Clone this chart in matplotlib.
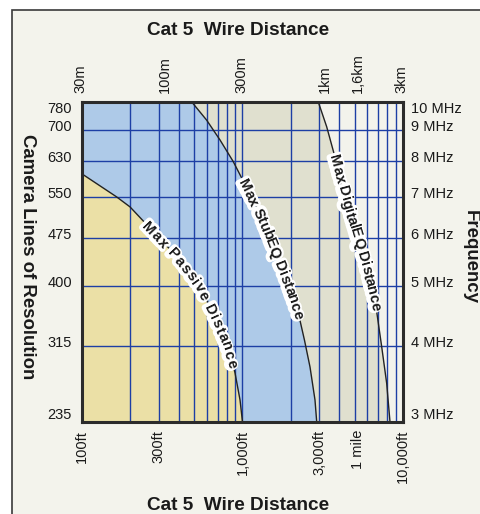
import numpy as np
import matplotlib
matplotlib.use('Agg')
import matplotlib.pyplot as plt
from matplotlib import patches, patheffects, font_manager
from matplotlib.ticker import NullLocator
from matplotlib.transforms import ScaledTranslation, blended_transform_factory
from matplotlib.font_manager import FontProperties

# ---------------- data ----------------
distance_ticks_ft = [100, 300, 1000, 3000, 5280, 10000]
distance_tick_labels = ['100ft', '300ft', '1,000ft', '3,000ft', '1 mile', '10,000ft']
metric_ticks_ft = [98.4, 328, 984, 3281, 5249, 9843]
metric_tick_labels = ['30m', '100m', '300m', '1km', '1,6km', '3km']
freq_ticks_mhz = [3, 4, 5, 6, 7, 8, 9, 10]
freq_tick_labels = ['3 MHz', '4 MHz', '5 MHz', '6 MHz', '7 MHz', '8 MHz', '9 MHz', '10 MHz']
lines_tick_labels = ['235', '315', '400', '475', '550', '630', '700', '780']
grid_ft = [200, 300, 400, 500, 600, 700, 800, 900, 1000,
           2000, 3000, 4000, 5000, 6000, 7000, 8000, 9000]
grid_mhz = [4, 5, 6, 7, 8, 9]

passive_ft = [100, 164, 199, 408, 544, 658, 797, 898, 965, 1000]
passive_mhz = [7.63, 7.00, 6.74, 5.52, 4.99, 4.52, 4.03, 3.61, 3.26, 3.0]
stubeq_ft = [483, 598, 724, 876, 1029, 1285, 1556, 1885, 2227, 2434, 2634, 2829, 2900]
stubeq_mhz = [10.0, 9.34, 8.67, 7.99, 7.36, 6.58, 5.80, 5.12, 4.52, 4.08, 3.69, 3.26, 3.0]
digitaleq_ft = [2967, 3346, 3863, 4460, 5146, 5939, 6692, 7368, 7913, 8299]
digitaleq_mhz = [10.0, 9.11, 7.94, 6.92, 6.10, 5.38, 4.75, 3.98, 3.47, 3.0]

curve_labels = ['Max Passive Distance', 'Max StubEQ Distance', 'Max DigitalEQ Distance']
label_span_mhz = [(6.34, 3.68), (7.46, 4.43), (8.19, 4.57)]

title_text = 'Cat 5  Wire Distance'
left_title = 'Camera Lines of Resolution'
right_title = 'Frequency'

# ---------------- style ----------------
W, H, DPI = 481, 514, 100
BG = '#f3f3ec'
YELLOW = '#ebe0a6'
BLUE = '#aecae8'
GRAY = '#e0e0cf'
GRID = '#1d3fa5'
INK = '#1a1a1a'

names = {f.name for f in font_manager.fontManager.ttflist}
SANS = 'Liberation Sans' if 'Liberation Sans' in names else 'DejaVu Sans'
NARROW = 'Liberation Sans Narrow' if 'Liberation Sans Narrow' in names else SANS
plt.rcParams['font.family'] = [SANS, 'DejaVu Sans']

fig = plt.figure(figsize=(W / DPI, H / DPI), dpi=DPI, facecolor='white')

# outer frame
frame = patches.Rectangle((12 / W, -0.05), 1.1, 1 - 10 / H + 0.05,
                          transform=fig.transFigure, facecolor=BG,
                          edgecolor='#3a3a3a', lw=1.2, zorder=0)
fig.add_artist(frame)

L, R, T, B = 82, 403, 102, 422
ax = fig.add_axes([L / W, 1 - B / H, (R - L) / W, (B - T) / H])
ax.set_xscale('log')
ax.set_yscale('log')
ax.set_xlim(100, 10000)
ax.set_ylim(3, 10)
ax.set_facecolor(BG)
for a in (ax.xaxis, ax.yaxis):
    a.set_major_locator(NullLocator())
    a.set_minor_locator(NullLocator())
for sp in ax.spines.values():
    sp.set_linewidth(2.2)
    sp.set_color('#2b2b2b')
    sp.set_zorder(10)

# regions
ax.fill([100] + digitaleq_ft + [100], [10] + digitaleq_mhz + [3],
        color=GRAY, lw=0, zorder=1)
ax.fill([100] + stubeq_ft + [100], [10] + stubeq_mhz + [3],
        color=BLUE, lw=0, zorder=1.1)
ax.fill([100] + passive_ft, [3] + passive_mhz, color=YELLOW, lw=0, zorder=1.2)

# grid
for g in grid_ft:
    ax.axvline(g, color=GRID, lw=1.0, zorder=2)
for g in grid_mhz:
    ax.axhline(g, color=GRID, lw=1.0, zorder=2)

# curves
for xs, ys in ((passive_ft, passive_mhz), (stubeq_ft, stubeq_mhz),
               (digitaleq_ft, digitaleq_mhz)):
    ax.plot(xs, ys, color='#222222', lw=1.0, zorder=3)

# tick labels
px = lambda v: v / DPI
bx = blended_transform_factory(ax.transData, ax.transAxes)
by = blended_transform_factory(ax.transAxes, ax.transData)
TFS = 10.5
for v, s in zip(distance_ticks_ft, distance_tick_labels):
    ax.text(v, 0, s, transform=bx + ScaledTranslation(0, -px(8), fig.dpi_scale_trans),
            rotation=90, ha='center', va='top', fontsize=TFS, color=INK, clip_on=False)
for v, s in zip(metric_ticks_ft, metric_tick_labels):
    ax.text(v, 1, s, transform=bx + ScaledTranslation(0, px(9), fig.dpi_scale_trans),
            rotation=90, ha='center', va='bottom', fontsize=TFS, color=INK, clip_on=False)
for v, sl, sr in zip(freq_ticks_mhz, lines_tick_labels, freq_tick_labels):
    if v == 10:
        va, dy = 'top', 0
    elif v == 3:
        va, dy = 'bottom', 0
    else:
        va, dy = 'center', 3
    ax.text(0, v, sl, transform=by + ScaledTranslation(-px(10), px(dy), fig.dpi_scale_trans),
            ha='right', va=va, fontsize=TFS, color=INK, clip_on=False)
    ax.text(1, v, sr, transform=by + ScaledTranslation(px(8), px(dy), fig.dpi_scale_trans),
            ha='left', va=va, fontsize=TFS, color=INK, clip_on=False)

# titles
TTL = 13.7
fig.text(238 / W, 1 - 30.5 / H, title_text, ha='center', va='center',
         fontsize=TTL, fontweight='bold', color=INK)
fig.text(238 / W, 1 - 505 / H, title_text, ha='center', va='center',
         fontsize=TTL, fontweight='bold', color=INK)
fig.text(27 / W, 1 - 256.5 / H, left_title, rotation=-90, ha='center', va='center',
         fontsize=13.4, fontweight='bold', color=INK)
fig.text(470.5 / W, 1 - 256.5 / H, right_title, rotation=-90, ha='center', va='center',
         fontsize=13.4, fontweight='bold', color=INK)

# curved labels along the curves
renderer = fig.canvas.get_renderer()
LFS = 10.5
fp = FontProperties(family=NARROW, weight='bold', size=LFS)
cap = 0.72 * LFS * DPI / 72.0


def tw(s):
    w, h, d = renderer.get_text_width_height_descent(s, fp, ismath=False)
    return w


def curved_label(xs, ys, text, span):
    pts = ax.transData.transform(np.column_stack([xs, ys]))
    seg = np.hypot(np.diff(pts[:, 0]), np.diff(pts[:, 1]))
    sarr = np.concatenate([[0], np.cumsum(seg)])
    yd = ax.transData.transform([[xs[0], span[0]], [xs[0], span[1]]])[:, 1]
    s0 = np.interp(yd[0], pts[::-1, 1], sarr[::-1])
    s1 = np.interp(yd[1], pts[::-1, 1], sarr[::-1])
    # spread glyphs evenly: natural advance plus uniform tracking
    centers = []
    for i, ch in enumerate(text):
        centers.append(tw(text[:i + 1]) - tw(ch) / 2.0)
    total = tw(text)
    track = ((s1 - s0) - total) / (len(text) - 1)

    def P(s):
        return np.array([np.interp(s, sarr, pts[:, 0]), np.interp(s, sarr, pts[:, 1])])

    inv = ax.transData.inverted()
    for i, ch in enumerate(text):
        if ch == ' ':
            continue
        s = s0 + centers[i] + i * track
        p = P(s)
        d = P(s + 10) - P(s - 10)
        th = np.arctan2(d[1], d[0])
        n = np.array([-np.sin(th), np.cos(th)])
        anchor = p - n * cap / 2.0
        xd, ydat = inv.transform(anchor)
        for color, z, pe in (('white', 5, [patheffects.withStroke(linewidth=4.5, foreground='white')]),
                             (INK, 6, None)):
            ax.text(xd, ydat, ch, rotation=np.degrees(th), rotation_mode='anchor',
                    ha='center', va='baseline', fontproperties=fp, color=color,
                    zorder=z, path_effects=pe, clip_on=False)


for (xs, ys), txt, span in zip(((passive_ft, passive_mhz), (stubeq_ft, stubeq_mhz),
                                (digitaleq_ft, digitaleq_mhz)),
                               curve_labels, label_span_mhz):
    curved_label(xs, ys, txt, span)

fig.savefig('out.png', dpi=DPI, facecolor='white')
